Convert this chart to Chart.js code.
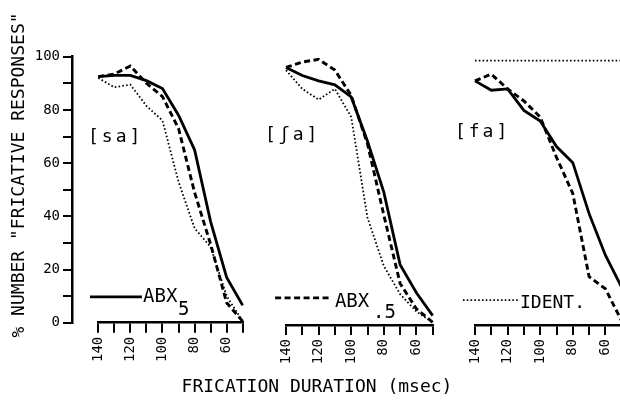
<!DOCTYPE html>
<html>
<head>
<meta charset="utf-8">
<script src="https://cdn.jsdelivr.net/npm/chart.js@4.4.1/dist/chart.umd.min.js"></script>
<style>
  html, body { margin: 0; padding: 0; background: #fff; overflow: hidden; }
  #wrap { position: relative; width: 620px; height: 401px; overflow: hidden; }
  canvas { position: absolute; top: 0; }
</style>
</head>
<body>
<div id="wrap">
  <canvas id="yaxis" width="100" height="350" style="left:0"></canvas>
  <canvas id="sa" width="620" height="401" style="left:0"></canvas>
  <canvas id="sha" width="606" height="401" style="left:14px"></canvas>
  <canvas id="fa" width="645" height="401" style="left:0"></canvas>
</div>
<script>
// frication duration (msec), same for every panel
const durations = [140, 130, 120, 110, 100, 90, 80, 70, 60, 50];
const yLabels = [0, 20, 40, 60, 80, 100];
const xLabels = [140, 120, 100, 80, 60];

// [sa]
const saABX5  = [92.5, 93, 93, 91, 88, 78, 65, 38, 17, 6.5];
const saABX05 = [92.5, 93.5, 96.5, 90, 85, 73, 49, 29.5, 7.5, 0.5];
const saIDENT = [92, 88.5, 89.5, 81.5, 76, 53, 35.5, 28.5, 10, 0.5];
// [ʃa]
const shaABX5  = [96, 93, 91, 89.5, 85, 68.5, 49.5, 22.5, 12, 3.5];
const shaABX05 = [96, 98, 99, 95, 85.5, 67.5, 41, 15.5, 6, 1];
const shaIDENT = [95, 88, 84, 88, 77.5, 40, 22, 11.5, 5, 1];
// [fa]
const faABX5  = [91, 87.5, 88, 80, 76, 66.5, 60.5, 41.5, 26, 14];
const faABX05 = [91, 93.5, 88, 83.5, 77.5, 62.5, 49, 18, 13.5, 1.5];
const faIDENT = [98.5, 98.5, 98.5, 98.5, 98.5, 98.5, 98.5, 98.5, 98.5, 98.5];

const FONT = "'DejaVu Sans Mono', monospace";
Chart.defaults.font.family = FONT;
Chart.defaults.color = '#000';

const solid = { borderColor: '#000', borderWidth: 2.8 };
const dashed = { borderColor: '#000', borderWidth: 2.9, borderDash: [6, 3.5] };
const dotted = { borderColor: '#000', borderWidth: 1.8, borderDash: [1.6, 2.2] };

function series(values, style) {
  return Object.assign({
    data: durations.map((d, i) => ({ x: d, y: values[i] })),
    pointRadius: 0, tension: 0, clip: false, fill: false
  }, style);
}

// panel label + one legend key, placed in data units
const notes = {
  id: 'notes',
  afterDraw(chart, args, opts) {
    const { ctx, scales: { x, y } } = chart;
    ctx.save();
    ctx.fillStyle = '#000';
    ctx.textAlign = 'left';
    ctx.textBaseline = 'alphabetic';
    for (const t of opts.texts || []) {
      ctx.font = (t.size || 18) + 'px ' + FONT;
      ctx.letterSpacing = t.spacing || '0px';
      ctx.fillText(t.text, x.getPixelForValue(t.x), y.getPixelForValue(t.y));
    }
    const k = opts.key;
    if (k) {
      const ds = chart.data.datasets[k.dataset];
      const py = y.getPixelForValue(k.y);
      ctx.strokeStyle = ds.borderColor;
      ctx.lineWidth = ds.borderWidth;
      ctx.setLineDash(ds.borderDash || []);
      ctx.beginPath();
      ctx.moveTo(x.getPixelForValue(k.from), py);
      ctx.lineTo(x.getPixelForValue(k.to), py);
      ctx.stroke();
    }
    ctx.restore();
  }
};

const hidden = { display: true, ticks: { display: false }, grid: { display: false }, border: { display: false } };

function panel(id, sets, o) {
  return new Chart(document.getElementById(id), {
    type: 'line',
    data: { datasets: sets },
    plugins: [notes],
    options: {
      responsive: false,
      animation: false,
      layout: { padding: o.padding },
      plugins: {
        legend: { display: false },
        tooltip: { enabled: false },
        title: o.title || { display: false },
        notes: o.notes
      },
      scales: Object.assign({
        x: {
          type: 'linear', reverse: true, min: 50, max: 140,
          ticks: {
            stepSize: 10, autoSkip: false, minRotation: 90, maxRotation: 90, padding: 4,
            font: { size: 14 },
            callback: v => xLabels.includes(v) ? String(v) : ''
          },
          grid: { drawOnChartArea: false, tickLength: 10, color: '#000', lineWidth: 2 },
          border: { color: '#000', width: 2.5 },
          afterFit: s => { s.height = o.xHeight; }
        },
        y: { display: false, min: 0, max: 100 }
      }, o.scales || {})
    }
  });
}

// y axis and its title
new Chart(document.getElementById('yaxis'), {
  type: 'line',
  data: { datasets: [] },
  options: {
    responsive: false,
    animation: false,
    plugins: {
      legend: { display: false },
      tooltip: { enabled: false },
      title: {
        display: true, position: 'left', text: '% NUMBER "FRICATIVE RESPONSES"',
        font: { size: 18, weight: 'normal' }, padding: { top: 9, bottom: 0 }
      }
    },
    scales: {
      y: {
        min: 0, max: 100,
        ticks: { stepSize: 10, padding: 3, font: { size: 14 }, callback: v => yLabels.includes(v) ? String(v) : '' },
        grid: { drawOnChartArea: false, tickLength: 9, color: '#000', lineWidth: 2 },
        border: { color: '#000', width: 2.5 },
        afterFit: s => { s.width = 72 - 30.6; }
      },
      x: Object.assign({ type: 'linear', afterFit: s => { s.height = 350 - 322.7; } }, hidden),
      xt: Object.assign({ type: 'linear', axis: 'x', position: 'top', afterFit: s => { s.height = 56.7; } }, hidden)
    }
  }
});

panel('sa', [series(saABX5, solid), series(saABX05, dashed), series(saIDENT, dotted)], {
  padding: { left: 98.3, right: 377.3, top: 56.7, bottom: 0 },
  xHeight: 78.3,
  notes: {
    texts: [
      { text: '[sa]', x: 146.4, y: 68, spacing: '3px' },
      { text: 'ABX', x: 112.1, y: 7.8, size: 19 },
      { text: '5', x: 90.3, y: 2.9, size: 19 }
    ],
    key: { dataset: 0, from: 145.2, to: 112.8, y: 9.7 }
  }
});

panel('sha', [series(shaABX5, solid), series(shaABX05, dashed), series(shaIDENT, dotted)], {
  padding: { left: 0, right: 0, top: 56.7, bottom: 0 },
  xHeight: 401 - 24.6 - 325,
  title: {
    display: true, position: 'bottom', text: 'FRICATION DURATION (msec)',
    font: { size: 18, weight: 'normal' }, padding: { top: 0, bottom: 3 }
  },
  scales: {
    y: Object.assign({ min: 0, max: 100, afterFit: s => { s.width = 286 - 14; } }, hidden),
    y2: Object.assign({ type: 'linear', position: 'right', afterFit: s => { s.width = 606 - (432.7 - 14); } }, hidden)
  },
  notes: {
    texts: [
      { text: '[ʃa]', x: 152.9, y: 69, spacing: '3px' },
      { text: 'ABX', x: 110, y: 6.8, size: 19 },
      { text: '.5', x: 86.6, y: 2.6, size: 19 }
    ],
    key: { dataset: 1, from: 146.7, to: 113, y: 10.1 }
  }
});

panel('fa', [series(faABX5, solid), series(faABX05, dashed), series(faIDENT, dotted)], {
  padding: { left: 475, right: 645 - 621.7, top: 56.7, bottom: 0 },
  xHeight: 401 - 325,
  notes: {
    texts: [
      { text: '[fa]', x: 152.3, y: 70.2, spacing: '3px' },
      { text: 'IDENT.', x: 112.4, y: 6.4, size: 18 }
    ],
    key: { dataset: 2, from: 147.4, to: 112.4, y: 9.3 }
  }
});
</script>
</body>
</html>
